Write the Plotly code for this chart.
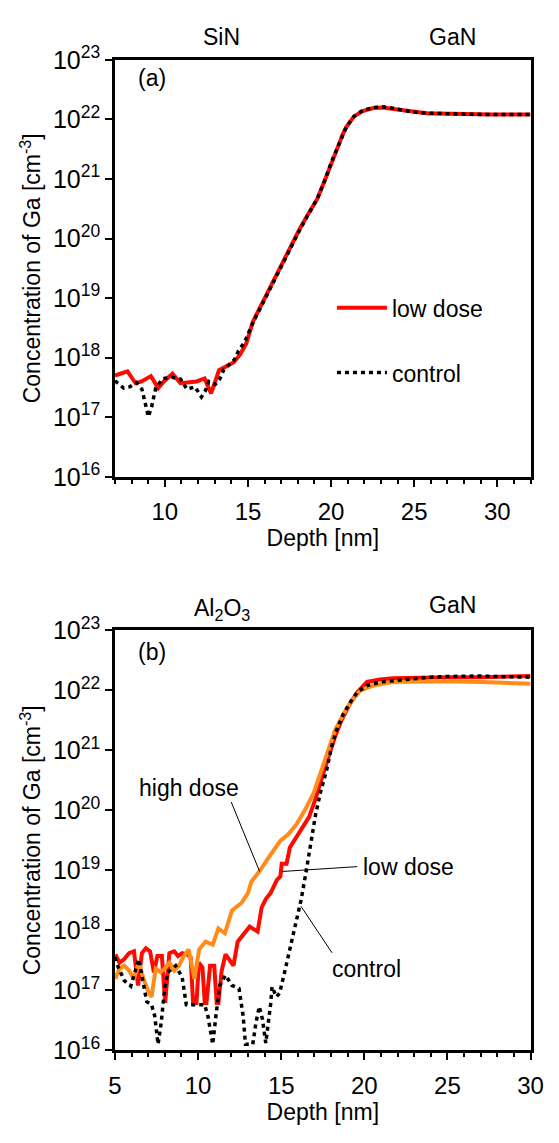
import plotly.graph_objects as go

# ---------------- data (log10 of concentration) ----------------
# Panel (a): SiN / GaN
a_low_depth = [7.0, 7.75, 8.24, 8.6, 9.16, 9.6, 9.97, 10.46, 10.94, 11.33, 11.91, 12.39, 12.78,
               13.26, 13.65, 14.13, 14.52, 14.9, 15.29, 15.77, 16.35, 16.93, 17.51, 18.09, 18.58,
               19.16, 19.6, 20.03, 20.26, 20.47, 20.7, 20.93, 21.38, 21.9, 22.54, 23.1, 23.65,
               24.17, 24.75, 25.33, 25.86, 26.4, 27.56, 28.62, 29.68, 30.84, 32.0]
a_low_log = [17.70, 17.77, 17.57, 17.60, 17.69, 17.49, 17.61, 17.73, 17.57, 17.58, 17.60, 17.65, 17.40,
             17.79, 17.85, 17.92, 18.05, 18.24, 18.60, 18.87, 19.20, 19.52, 19.82, 20.15, 20.39,
             20.66, 20.96, 21.29, 21.45, 21.58, 21.75, 21.88, 22.05, 22.14, 22.19, 22.20, 22.18,
             22.16, 22.14, 22.12, 22.10, 22.10, 22.09, 22.08, 22.08, 22.08, 22.08]

a_ctrl_depth = [7.0, 7.52, 7.89, 8.29, 8.62, 8.76, 8.87, 9.01, 9.2, 9.34, 9.45, 9.88, 10.42, 10.94,
                11.33, 11.81, 12.2, 12.43, 12.64, 13.03, 13.3, 13.55, 13.88, 14.19, 14.42, 14.81,
                15.29, 15.77, 16.35, 16.93, 17.51, 18.09, 18.58, 19.16, 19.6, 20.03, 20.47, 20.93,
                21.38, 21.9, 22.54, 23.1, 23.65, 24.17, 24.75, 25.33, 25.86, 26.4, 27.56, 28.62,
                29.68, 30.84, 32.0]
a_ctrl_log = [17.61, 17.49, 17.51, 17.58, 17.47, 17.32, 17.17, 17.01, 17.17, 17.33, 17.49, 17.65, 17.67, 17.64,
              17.47, 17.51, 17.34, 17.44, 17.60, 17.55, 17.64, 17.80, 17.88, 17.97, 18.11, 18.27,
              18.58, 18.85, 19.18, 19.50, 19.81, 20.13, 20.38, 20.66, 20.96, 21.29, 21.58, 21.88,
              22.05, 22.15, 22.20, 22.21, 22.19, 22.16, 22.13, 22.11, 22.10, 22.10, 22.09, 22.08,
              22.08, 22.08, 22.08]

# Panel (b): Al2O3 / GaN
b_low_depth = [5.02, 5.27, 5.56, 5.85, 6.14, 6.39, 6.62, 6.86, 7.11, 7.34, 7.55, 7.82, 8.02, 8.27,
               8.56, 8.79, 9.04, 9.33, 9.55, 9.7, 9.9, 10.05, 10.26, 10.4, 10.5, 10.72, 10.97, 11.12,
               11.22, 11.42, 11.65, 12.13, 12.38, 12.71, 13.1, 13.58, 13.82, 14.07, 14.36, 14.74,
               14.95, 15.03, 15.32, 15.52, 15.9, 16.29, 16.68, 17.06, 17.45, 17.84, 18.23, 18.61,
               19.1, 19.58, 20.16, 20.93, 21.7, 23.0, 25.0, 27.0, 29.0, 30.0]
b_low_log = [17.60, 17.46, 17.52, 17.62, 17.65, 17.08, 17.62, 17.70, 17.65, 17.30, 17.57, 17.57, 16.79, 17.62,
             17.65, 17.57, 17.62, 17.60, 17.55, 16.79, 16.79, 17.46, 17.38, 16.79, 16.79, 17.41, 17.41, 16.79,
             16.79, 17.33, 17.60, 17.41, 17.81, 17.92, 18.06, 17.98, 18.38, 18.52, 18.62, 18.84,
             18.90, 19.11, 19.11, 19.38, 19.54, 19.70, 19.89, 20.19, 20.57, 20.89, 21.22, 21.49,
             21.76, 21.97, 22.14, 22.18, 22.20, 22.21, 22.22, 22.22, 22.23, 22.24]

b_high_depth = [5.02, 5.27, 5.56, 5.85, 6.14, 6.43, 6.72, 6.97, 7.2, 7.45, 7.74, 7.98, 8.27, 8.56,
                8.85, 9.14, 9.43, 9.78, 10.06, 10.45, 10.88, 11.22, 11.61, 12.04, 12.62, 13.0, 13.2,
                13.68, 14.26, 14.94, 15.42, 15.9, 16.48, 16.97, 17.36, 17.74, 18.23, 18.71, 19.19,
                19.77, 20.55, 21.7, 23.0, 25.0, 27.0, 29.0, 30.0]
b_high_log = [17.19, 17.36, 17.41, 17.33, 17.19, 17.46, 17.19, 17.00, 16.89, 17.36, 17.30, 17.36, 17.46, 17.33,
              17.41, 17.57, 17.68, 17.19, 17.68, 17.81, 17.76, 18.03, 17.95, 18.33, 18.46, 18.62, 18.81,
              18.98, 19.22, 19.49, 19.60, 19.76, 20.03, 20.30, 20.62, 20.95, 21.33, 21.59, 21.81,
              22.00, 22.08, 22.14, 22.15, 22.15, 22.14, 22.12, 22.11]

b_ctrl_depth = [5.0, 5.08, 5.56, 5.95, 6.43, 6.72, 6.91, 7.2, 7.39, 7.59, 7.78, 7.98, 8.17, 8.65, 9.04,
                9.29, 9.91, 10.39, 10.59, 10.88, 11.07, 11.3, 11.65, 12.04, 12.46, 12.62, 12.71, 12.85,
                13.29, 13.48, 13.68, 13.87, 14.07, 14.36, 14.45, 14.71, 14.9, 15.16, 15.42, 15.71,
                16.19, 16.48, 16.77, 17.06, 17.36, 17.74, 18.03, 18.32, 18.71, 19.1, 19.58, 20.16,
                21.0, 22.0, 23.0, 24.0, 25.0, 26.0, 27.0, 28.0, 29.0, 30.0]
b_ctrl_log = [17.55, 17.46, 17.16, 17.07, 17.52, 17.11, 16.81, 16.76, 16.57, 16.10, 16.46, 17.00, 17.30, 17.41, 17.22,
              16.76, 16.76, 16.76, 16.57, 16.10, 16.57, 17.08, 17.25, 17.08, 17.03, 16.76, 16.57, 16.10,
              16.10, 16.46, 16.73, 16.52, 16.12, 16.76, 17.06, 16.89, 16.95, 17.25, 17.57, 17.95,
              18.50, 18.95, 19.40, 19.92, 20.30, 20.68, 21.06, 21.33, 21.59, 21.78, 21.97, 22.08,
              22.14, 22.17, 22.20, 22.22, 22.23, 22.24, 22.24, 22.23, 22.22, 22.22]

decades = list(range(16, 24))
tick_vals = [10.0 ** d for d in decades]
tick_text = ["10<sup>%d</sup>" % d for d in decades]

RED = "#ff0a00"
ORANGE = "#ff8c1a"
FONT = "Liberation Sans, Arial, sans-serif"
W, H = 559, 1143
TXT = 23


def lin(vals):
    return [10.0 ** v for v in vals]


fig = go.Figure()

# panel (a)
fig.add_trace(go.Scatter(x=a_low_depth, y=lin(a_low_log), mode="lines", name="low dose",
                         line=dict(color=RED, width=4), xaxis="x", yaxis="y",
                         legendgroup="g1"))
fig.add_trace(go.Scatter(x=a_ctrl_depth, y=lin(a_ctrl_log), mode="lines", name="control",
                         line=dict(color="black", width=3.5, dash="4px,4px"), xaxis="x", yaxis="y",
                         legendgroup="g2"))
# panel (b)
fig.add_trace(go.Scatter(x=b_low_depth, y=lin(b_low_log), mode="lines", name="low dose",
                         line=dict(color=RED, width=4), xaxis="x2", yaxis="y2", showlegend=False))
fig.add_trace(go.Scatter(x=b_high_depth, y=lin(b_high_log), mode="lines", name="high dose",
                         line=dict(color=ORANGE, width=4), xaxis="x2", yaxis="y2", showlegend=False))
fig.add_trace(go.Scatter(x=b_ctrl_depth, y=lin(b_ctrl_log), mode="lines", name="control",
                         line=dict(color="black", width=3.5, dash="4px,4px"), xaxis="x2", yaxis="y2",
                         showlegend=False))

xdom = [112 / W, 543 / W]
ydom_a = [1 - 472 / H, 1 - 43 / H]
ydom_b = [1 - 1062 / H, 1 - 630 / H]

xcommon = dict(showgrid=False, zeroline=False, showline=True, linecolor="black", linewidth=2.5,
               mirror=True, ticks="outside", ticklen=7, tickwidth=2, tickcolor="black",
               dtick=5, tick0=0, minor=dict(ticks="outside", ticklen=4, tickwidth=1.5, dtick=1,
                                             tickcolor="black", showgrid=False),
               tickfont=dict(family=FONT, size=24, color="black"), ticklabelstandoff=5,
               title=dict(text="Depth [nm]", font=dict(family=FONT, size=TXT, color="black"),
                          standoff=6))
ycommon = dict(type="log", range=[16, 23], showgrid=False, zeroline=False, showline=True,
               linecolor="black", linewidth=2.5, mirror=True, ticks="outside", ticklen=7,
               tickwidth=2, tickcolor="black", tickvals=tick_vals, ticktext=tick_text,
               tickfont=dict(family=FONT, size=25, color="black"),
               title=dict(text="Concentration of Ga [cm<sup>-3</sup>]",
                          font=dict(family=FONT, size=TXT, color="black"), standoff=6))


def ptxt(text, px, py, xanchor="center"):
    return dict(text=text, x=px / W, y=1 - py / H, xref="paper", yref="paper",
                showarrow=False, xanchor=xanchor, yanchor="middle")


annots = [
    ptxt("SiN", 222, 20),
    ptxt("GaN", 462, 20),
    ptxt("(a)", 134, 62, "left"),
    ptxt("Al<sub>2</sub>O<sub>3</sub>", 223, 609),
    ptxt("GaN", 462, 604),
    ptxt("(b)", 134, 652, "left"),
    # bottom panel labels
    dict(text="high dose", x=12.6, y=20.38, xref="x2", yref="y2", showarrow=False,
         xanchor="right", yanchor="middle"),
    dict(text="low dose", x=19.79, y=19.06, xref="x2", yref="y2", showarrow=False,
         xanchor="left", yanchor="middle"),
    dict(text="control", x=17.93, y=17.36, xref="x2", yref="y2", showarrow=False,
         xanchor="left", yanchor="middle"),
    # leader lines
    dict(text="", x=13.7, y=18.98, xref="x2", yref="y2", showarrow=True, arrowhead=0,
         arrowwidth=1, arrowcolor="black", ax=-29, ay=-71, standoff=0, startstandoff=0),
    dict(text="", x=15.03, y=18.98, xref="x2", yref="y2", showarrow=True, arrowhead=0,
         arrowwidth=1, arrowcolor="black", ax=77, ay=-5, standoff=0, startstandoff=0),
    dict(text="", x=16.19, y=18.40, xref="x2", yref="y2", showarrow=True, arrowhead=0,
         arrowwidth=1, arrowcolor="black", ax=32, ay=48, standoff=0, startstandoff=0),
]
for a in annots:
    a.setdefault("font", dict(family=FONT, size=TXT, color="black"))

fig.update_layout(
    width=W, height=H, margin=dict(l=0, r=0, t=0, b=0),
    paper_bgcolor="white", plot_bgcolor="white",
    font=dict(family=FONT, size=TXT, color="black"),
    xaxis=dict(domain=xdom, anchor="y", range=[7, 32], **xcommon),
    yaxis=dict(domain=ydom_a, anchor="x", **ycommon),
    xaxis2=dict(domain=xdom, anchor="y2", range=[5, 30], **xcommon),
    yaxis2=dict(domain=ydom_b, anchor="x2", **ycommon),
    showlegend=True,
    legend=dict(x=337 / W, y=1 - 276 / H, xanchor="left", yanchor="top",
                bgcolor="rgba(0,0,0,0)", font=dict(family=FONT, size=TXT, color="black"),
                tracegroupgap=32, itemwidth=50),
    annotations=annots,
)

fig.write_html("out.html")
